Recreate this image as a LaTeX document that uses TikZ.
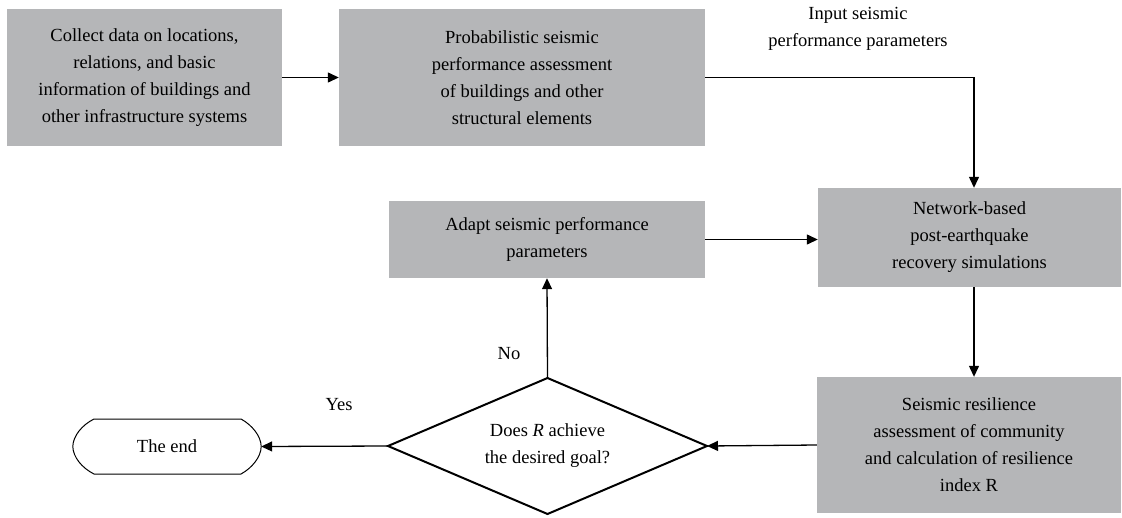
\documentclass[tikz,border=0pt]{standalone}
\usepackage{fontspec}
\setmainfont{Liberation Serif}
\usetikzlibrary{arrows.meta,shapes.geometric}
\definecolor{boxgray}{RGB}{181,182,184}
\tikzset{
  graybox/.style={fill=boxgray,draw=none,align=center,inner sep=0pt,
    font=\fontsize{18.5}{27}\selectfont},
  lbl/.style={align=center,inner sep=0pt,font=\fontsize{18.5}{27}\selectfont},
  conn/.style={line width=1.3pt,-{Triangle[length=11pt,width=10pt]}},
}
\begin{document}
\begin{tikzpicture}[x=1pt,y=-1pt]
\useasboundingbox (0,0) rectangle (1122,517);
\node[graybox,minimum width=275pt,minimum height=137pt] (b1) at (144.5,77.5)
  {Collect data on locations,\\relations, and basic\\information of buildings and\\other infrastructure systems};
\node[graybox,minimum width=366pt,minimum height=137pt] (b2) at (522,77.5)
  {Probabilistic seismic\\performance assessment\\of buildings and other\\structural elements};
\node[graybox,minimum width=303pt,minimum height=99pt] (b3) at (969.5,237.5)
  {Network-based\\post-earthquake\\recovery simulations};
\node[graybox,minimum width=304pt,minimum height=136pt] (b4) at (969,445)
  {Seismic resilience\\assessment of community\\and calculation of resilience\\index R};
\node[graybox,minimum width=316pt,minimum height=77pt] (ad) at (547,239.5)
  {Adapt seismic performance\\parameters};
% decision diamond
\coordinate (diaL) at (388,446);
\coordinate (diaT) at (547.5,378);
\coordinate (diaR) at (707,446);
\coordinate (diaB) at (547.5,514);
\draw[line width=2pt,line join=miter] (diaL) -- (diaT) -- (diaR) -- (diaB) -- cycle;
\node[lbl] (dia) at (547.5,446) {Does \textit{R} achieve\\the desired goal?};
% terminal
\node[lbl,minimum width=188pt,minimum height=55pt] (end) at (167,446.5) {The end};
\draw[line width=1pt] (94,419) -- (241,419)
  .. controls (252,425) and (261,436) .. (end.east)
  .. controls (261,457) and (252,468) .. (241,474)
  -- (94,474)
  .. controls (82,468) and (73,457) .. (end.west)
  .. controls (73,436) and (82,425) .. cycle;
\node[lbl] (inlbl) at (858,29) {Input seismic\\performance parameters};
\node[lbl] (yes) at (339,405) {Yes};
\node[lbl] (no) at (509,354) {No};
\coordinate (b3in) at ([xshift=4.5pt]b3.north);
\draw[conn] (b1.east) -- (b2.west);
\draw[conn] (b2.east) -| (b3in);
\draw[conn] ([xshift=4.5pt]b3.south) -- ([xshift=5pt]b4.north);
\draw[conn] (b4.west) -- (diaR);
\draw[conn] (diaL) -- (end.east);
\draw[conn] (diaT) -- (ad.south);
\draw[conn] (ad.east) -- (ad.east -| b3.west);
\end{tikzpicture}
\end{document}
